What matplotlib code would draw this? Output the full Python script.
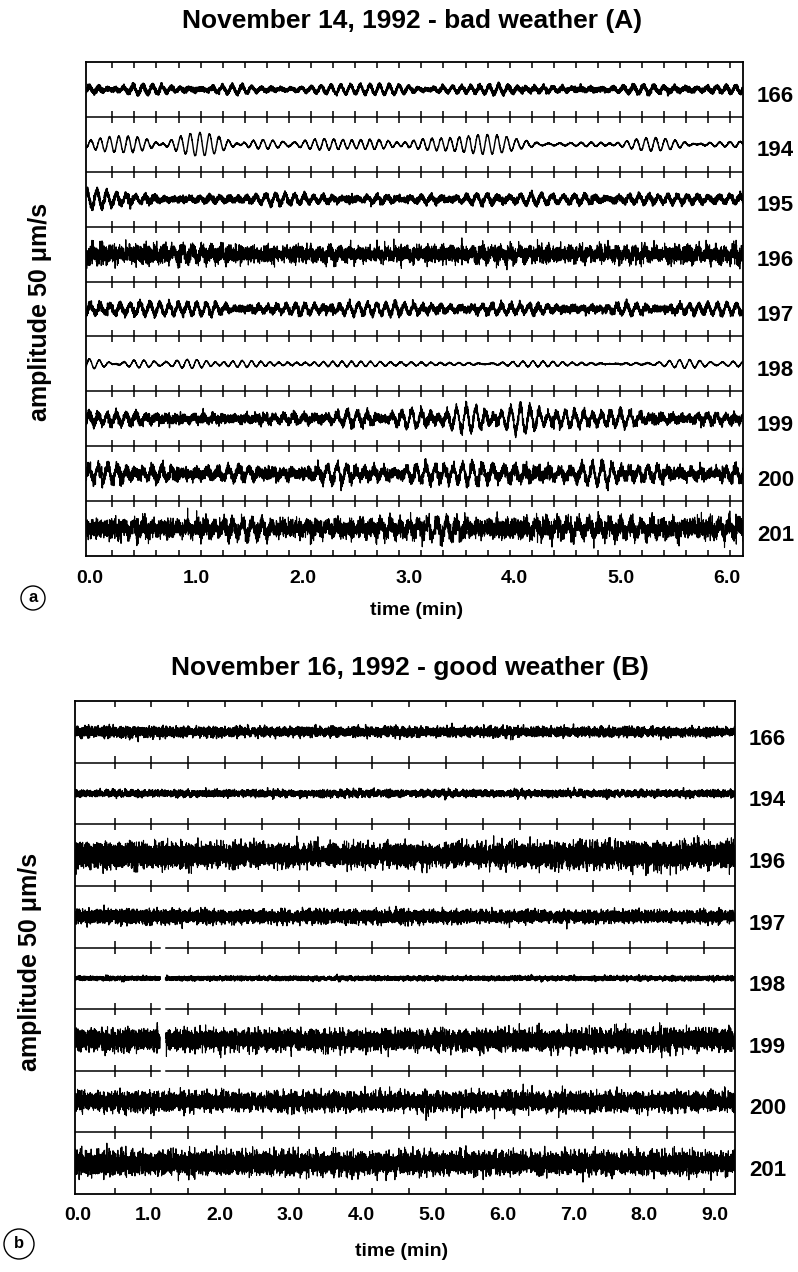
"""Two-panel seismogram sketch: bad weather (A) vs good weather (B) station traces."""
import numpy as np
import matplotlib
matplotlib.use("Agg")
import matplotlib.pyplot as plt
from matplotlib.patches import Circle
from matplotlib.transforms import IdentityTransform, blended_transform_factory

# ---- panel A: November 14, 1992 ----
a_title = "November 14, 1992 - bad weather (A)"
a_stations = ["166", "194", "195", "196", "197", "198", "199", "200", "201"]
a_env_time = [0, 1, 2, 3, 4, 5, 6]          # minutes where envelopes were read
# half peak-to-peak of the ocean-swell wiggle, in trace-row units
a_swell_amp = [
    [0.13, 0.11, 0.06, 0.07, 0.09, 0.09, 0.09],
    [0.18, 0.17, 0.12, 0.17, 0.12, 0.17, 0.12],
    [0.13, 0.11, 0.08, 0.10, 0.10, 0.09, 0.07],
    [0.08, 0.07, 0.07, 0.07, 0.07, 0.07, 0.08],
    [0.14, 0.12, 0.10, 0.10, 0.12, 0.12, 0.10],
    [0.07, 0.07, 0.06, 0.06, 0.06, 0.07, 0.07],
    [0.16, 0.14, 0.12, 0.14, 0.18, 0.13, 0.12],
    [0.16, 0.15, 0.12, 0.14, 0.18, 0.15, 0.15],
    [0.12, 0.12, 0.10, 0.12, 0.13, 0.12, 0.12],
]
# half width of the high-frequency noise band, in trace-row units
a_noise_amp = [
    [0.04, 0.04, 0.03, 0.03, 0.04, 0.04, 0.04],
    [0.01, 0.01, 0.01, 0.01, 0.01, 0.01, 0.01],
    [0.06, 0.05, 0.05, 0.05, 0.05, 0.05, 0.05],
    [0.17, 0.15, 0.14, 0.14, 0.15, 0.14, 0.15],
    [0.07, 0.06, 0.06, 0.06, 0.06, 0.06, 0.06],
    [0.01, 0.01, 0.01, 0.01, 0.01, 0.01, 0.01],
    [0.09, 0.08, 0.08, 0.08, 0.09, 0.08, 0.08],
    [0.11, 0.10, 0.10, 0.10, 0.11, 0.10, 0.10],
    [0.17, 0.16, 0.15, 0.16, 0.17, 0.16, 0.17],
]
a_tick_values = [0, 1, 2, 3, 4, 5, 6]
a_tick_labels = ["0.0", "1.0", "2.0", "3.0", "4.0", "5.0", "6.0"]

# ---- panel B: November 16, 1992 ----
b_title = "November 16, 1992 - good weather (B)"
b_stations = ["166", "194", "196", "197", "198", "199", "200", "201"]
b_env_time = [0, 1, 2, 3, 4, 5, 6, 7, 8, 9]
b_swell_amp = [
    [0.02] * 10,
    [0.02] * 10,
    [0.03] * 10,
    [0.02] * 10,
    [0.01] * 10,
    [0.03] * 10,
    [0.03] * 10,
    [0.03] * 10,
]
b_noise_amp = [
    [0.08, 0.08, 0.07, 0.07, 0.07, 0.07, 0.07, 0.07, 0.07, 0.06],
    [0.05, 0.05, 0.05, 0.05, 0.05, 0.05, 0.05, 0.05, 0.05, 0.05],
    [0.21, 0.20, 0.18, 0.17, 0.17, 0.17, 0.18, 0.20, 0.20, 0.20],
    [0.11, 0.11, 0.10, 0.10, 0.10, 0.10, 0.09, 0.09, 0.09, 0.09],
    [0.03, 0.03, 0.03, 0.03, 0.03, 0.03, 0.03, 0.03, 0.03, 0.03],
    [0.17, 0.16, 0.15, 0.15, 0.15, 0.15, 0.16, 0.16, 0.16, 0.16],
    [0.15, 0.15, 0.14, 0.14, 0.14, 0.14, 0.14, 0.15, 0.14, 0.14],
    [0.18, 0.18, 0.18, 0.17, 0.17, 0.17, 0.17, 0.17, 0.17, 0.17],
]
b_tick_values = [0, 1, 2, 3, 4, 5, 6, 7, 8, 9]
b_tick_labels = ["0.0", "1.0", "2.0", "3.0", "4.0", "5.0", "6.0", "7.0", "8.0", "9.0"]
b_gap_minutes = [1.16, 1.24]          # data dropout
b_gap_stations = ["198", "199"]

# line widths per trace (thin swell-only traces vs noisy ones)
a_line_widths = [1.5, 1.0, 1.4, 0.8, 1.2, 0.9, 1.0, 1.0, 0.8]
b_line_widths = [1.0, 1.0, 0.8, 0.9, 1.2, 0.8, 0.8, 0.8]

W, H = 798, 1272
plt.rcParams["font.family"] = ["Liberation Sans", "DejaVu Sans"]
plt.rcParams["font.weight"] = "bold"


def texture_hash(k, s):
    # deterministic scramble used only for phases of the wiggle texture
    v = np.sin(k * 12.9898 + s * 78.233) * 43758.5453
    return v - np.floor(v)


def swell_wave(t, s):
    k = np.arange(18)
    freqs = 9.5 + 2.5 * texture_hash(k + 3, s)    # ~6 s period (cycles/min)
    ph = 2 * np.pi * texture_hash(k + 11, s)
    w = np.sin(2 * np.pi * freqs[:, None] * t[None, :] + ph[:, None]).sum(axis=0)
    return w / w.std() / 2.2


def noise_wave(t, s):
    k = np.arange(220)
    freqs = 25 + 2.2 * k + 2.0 * texture_hash(k + 5, s)
    ph = 2 * np.pi * texture_hash(k + 101, s + 0.37)
    w = np.zeros_like(t)
    for f, p in zip(freqs, ph):
        w += np.sin(2 * np.pi * f * t + p)
    return w / w.std() / 2.0


def add_axes_px(left, top, right, bottom):
    return fig.add_axes([left / W, 1 - bottom / H, (right - left) / W, (bottom - top) / H])


def draw_panel(ax, stations, env_t, swell_amp, noise_amp, widths, xlim,
               tick_step, tick_h, rate, seed, gap=None, gap_rows=()):
    n = len(stations)
    t = np.linspace(xlim[0], xlim[1], int((xlim[1] - xlim[0]) * rate))
    gap_mask = np.zeros_like(t, dtype=bool)
    if gap is not None:
        gap_mask = (t > gap[0]) & (t < gap[1])
    label_x = 1.0 + 14 / (ax.get_position().width * W)
    label_tr = blended_transform_factory(ax.transAxes, ax.transData)
    for i, st in enumerate(stations):
        sw = np.interp(t, env_t, swell_amp[i]) * swell_wave(t, seed + i)
        nz = np.interp(t, env_t, noise_amp[i]) * noise_wave(t, seed + 2 * i + 1)
        y = i + sw + nz
        if st in gap_rows:
            y = np.where(gap_mask, np.nan, y)
        ax.plot(t, y, color="black", lw=widths[i])
        ax.text(label_x, i + 0.12, st, transform=label_tr,
                ha="left", va="center", fontsize=16, fontweight="bold")

    tick_x = np.arange(tick_step, xlim[1], tick_step)
    gap_rows_idx = [stations.index(s) for s in gap_rows]
    for i in range(n - 1):
        yb = i + 0.5
        broken = gap is not None and (i in gap_rows_idx or i + 1 in gap_rows_idx)
        if broken:
            ax.plot([xlim[0], gap[0]], [yb, yb], color="black", lw=1.1)
            ax.plot([gap[1], xlim[1]], [yb, yb], color="black", lw=1.1)
        else:
            ax.plot([xlim[0], xlim[1]], [yb, yb], color="black", lw=1.1)
        ax.vlines(tick_x, yb - tick_h, yb + tick_h, color="black", lw=1.1)
    # border ticks pointing inward
    ax.vlines(tick_x, -0.5, -0.5 + tick_h, color="black", lw=1.1)
    ax.vlines(tick_x, n - 0.5 - tick_h, n - 0.5, color="black", lw=1.1)

    ax.set_xlim(*xlim)
    ax.set_ylim(n - 0.5, -0.5)
    ax.set_yticks([])
    for sp in ax.spines.values():
        sp.set_linewidth(1.3)


fig = plt.figure(figsize=(W / 100, H / 100), dpi=100)

# panel A
ax_a = add_axes_px(86, 62, 743, 556)
draw_panel(ax_a, a_stations, a_env_time, a_swell_amp, a_noise_amp, a_line_widths,
           (-0.04, 6.15), 0.208, 0.11, 1200, 1)
ax_a.set_xticks(a_tick_values, a_tick_labels)
ax_a.tick_params(axis="x", length=0, pad=10, labelsize=14)
fig.text(412 / W, 1 - 21 / H, a_title, ha="center", va="center",
         fontsize=19, fontweight="bold")
fig.text(40 / W, 1 - 312 / H, "amplitude 50 μm/s", rotation=90, ha="center", va="center",
         fontsize=18, fontweight="bold")
fig.text(417 / W, 1 - 610 / H, "time (min)", ha="center", va="center",
         fontsize=14, fontweight="bold")

# panel B
ax_b = add_axes_px(75, 701, 735, 1194)
draw_panel(ax_b, b_stations, b_env_time, b_swell_amp, b_noise_amp, b_line_widths,
           (-0.04, 9.28), 0.52, 0.10, 1000, 40, gap=b_gap_minutes, gap_rows=b_gap_stations)
ax_b.set_xticks(b_tick_values, b_tick_labels)
ax_b.tick_params(axis="x", length=0, pad=9, labelsize=14)
fig.text(410 / W, 1 - 668 / H, b_title, ha="center", va="center",
         fontsize=19, fontweight="bold")
fig.text(30 / W, 1 - 962 / H, "amplitude 50 μm/s", rotation=90, ha="center", va="center",
         fontsize=18, fontweight="bold")
fig.text(402 / W, 1 - 1252 / H, "time (min)", ha="center", va="center",
         fontsize=14, fontweight="bold")

# circled panel letters (pixel coordinates)
for cx, cy, r, letter in [(33, 598, 12, "a"), (19, 1244, 15, "b")]:
    fig.patches.append(Circle((cx, H - cy), r, transform=IdentityTransform(),
                              fill=False, lw=1.0, color="black"))
    fig.text(cx / W, 1 - cy / H, letter, ha="center", va="center", fontsize=12,
             fontweight="bold")

fig.savefig("out.png", dpi=100)
